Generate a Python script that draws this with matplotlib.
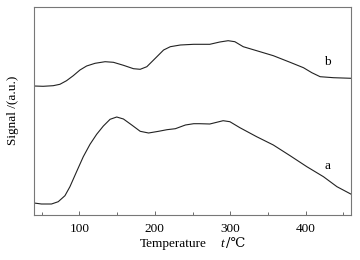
import matplotlib
matplotlib.use("Agg")
import matplotlib.pyplot as plt
from matplotlib.ticker import MultipleLocator

temp_b = [40, 52.1, 65.4, 74.3, 83.1, 92.0, 100.9, 109.7, 120.9, 134.2, 145.2, 158.5,
          171.8, 180.7, 189.5, 200.7, 211.7, 220.6, 233.9, 251.6, 272.9, 286.2, 297.2,
          306.1, 317.2, 335.0, 357.1, 379.3, 397.0, 408.1, 419.1, 436.8, 460.4]
signal_b = [129, 128.7, 129.3, 130.7, 134.3, 139.3, 145, 149, 151.7, 153.3, 152.7, 149.7,
            146.3, 145.7, 148.3, 156.7, 165, 168.3, 170, 170.7, 170.7, 173, 174.3,
            173.3, 168.3, 164.3, 159.3, 152.7, 147.3, 142.3, 138.3, 137.3, 136.7]

temp_a = [40, 49.9, 63.2, 72.1, 81.0, 87.6, 96.4, 105.3, 114.2, 123.0, 131.9, 140.8,
          149.6, 158.5, 169.5, 180.7, 191.8, 205.1, 216.1, 227.3, 240.6, 251.6, 259.6,
          272.9, 290.6, 299.5, 312.8, 335.0, 357.1, 379.3, 401.5, 423.5, 441.4, 460.4]
signal_a = [12, 11, 11, 13.3, 19.3, 28.3, 43.3, 58.3, 70.7, 80.7, 89, 95.7,
            98, 96, 90, 83.7, 82, 83.7, 85.3, 86.3, 90, 91.3, 91.3,
            91, 94.3, 93.3, 87.3, 78.3, 70, 59.3, 48.3, 38.3, 28.3, 20.7]

xticks = [100, 200, 300, 400]

serif = ['Liberation Serif', 'DejaVu Serif', 'DejaVu Sans']
plt.rcParams['font.family'] = serif
plt.rcParams['font.size'] = 9.5

fig = plt.figure(figsize=(3.6, 2.6), dpi=100)
ax = fig.add_axes([34/360, 1 - 215/260, (351-34)/360, (215-7)/260])

ax.plot(temp_b, signal_b, color='#222222', lw=0.8)
ax.plot(temp_a, signal_a, color='#222222', lw=0.8)

ax.set_xlim(40, 460)
ax.set_ylim(0, 208)
ax.set_xticks(xticks)
ax.xaxis.set_minor_locator(MultipleLocator(50))
ax.tick_params(axis='x', which='major', direction='in', length=3, width=0.6, color='#555555', pad=6)
ax.tick_params(axis='x', which='minor', direction='in', length=2, width=0.6, color='#555555')
ax.set_yticks([])
for s in ax.spines.values():
    s.set_color('#777777')
    s.set_linewidth(0.8)

ax.text(428.9, 153.3, 'b', ha='center', va='center')
ax.text(428.9, 49.3, 'a', ha='center', va='center')

fig.text(173/360, 1 - 244/260, 'Temperature', ha='center', va='center')
fig.text(222/360, 1 - 244/260, 't', ha='center', va='center', style='italic')
fig.text(226/360, 1 - 244/260, '/\u2103', ha='left', va='center',
         family=['DejaVu Serif', 'DejaVu Sans', 'Noto Sans CJK SC'])
fig.text(13/360, 1 - 110/260, 'Signal /(a.u.)', ha='center', va='center', rotation=90)

fig.savefig('out.png', dpi=100)
